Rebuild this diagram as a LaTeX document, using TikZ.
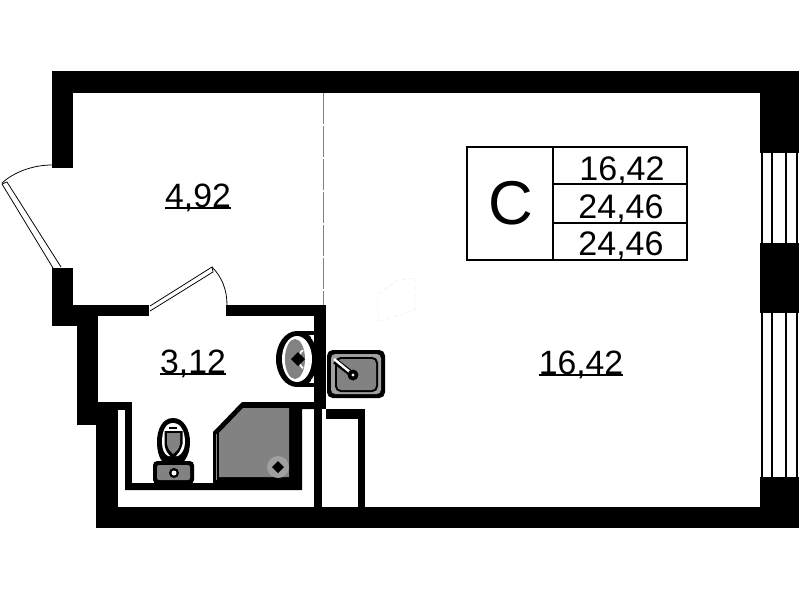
\documentclass[tikz,border=0pt]{standalone}
\usepackage{fontspec}
\setmainfont{Liberation Sans}
\definecolor{fixgray}{RGB}{130,130,130}
\definecolor{fixlight}{RGB}{160,160,160}
\newcommand{\arealabel}[1]{\setbox0\hbox{#1}\rlap{\rule[-1.4pt]{\wd0}{1.3pt}}\box0}
\tikzset{
  wall/.style={fill=black},
  leaf/.style={line width=0.55pt},
  gridline/.style={line width=0.75pt},
  pane/.style={line width=0.75pt},
  areatext/.style={anchor=base,inner sep=0pt,font=\fontsize{24}{24}\selectfont},
  tabletext/.style={anchor=base,inner sep=0pt,font=\fontsize{24.2}{24.2}\selectfont},
}
\begin{document}
\begin{tikzpicture}[x=0.25mm,y=-0.25mm]
      \useasboundingbox (0, 0) rectangle (799, 600);
      % walls
      \fill[wall] (52, 71) rectangle (799, 93);
      \fill[wall] (52, 71) rectangle (73, 168);
      \fill[wall] (52, 268) rectangle (73, 326);
      \fill[wall] (52, 305) rectangle (149, 316);
      \fill[wall] (52, 316) rectangle (77, 326);
      \fill[wall] (77, 305) rectangle (98, 425);
      \fill[wall] (98, 402) rectangle (132, 410);
      \fill[wall] (96, 402) rectangle (118, 528);
      \fill[wall] (125, 402) rectangle (132, 490);
      \fill[wall] (226, 305) rectangle (326, 316);
      \fill[wall] (314, 305) rectangle (326, 409);
      \fill[wall] (314, 409) rectangle (322, 507);
      \fill[wall] (326, 409) rectangle (365, 419);
      \fill[wall] (358, 409) rectangle (365, 507);
      \fill[wall] (96, 507) rectangle (799, 528);
      \fill[wall] (760, 71) rectangle (799, 153);
      \fill[wall] (760, 243) rectangle (799, 313);
      \fill[wall] (760, 477) rectangle (799, 528);
      % windows
      \foreach \x in {762, 772, 786, 797} {
        \draw[pane] (\x, 153) -- (\x, 243);
        \draw[pane] (\x, 313) -- (\x, 477);
      }
      % partition
      \draw[dashed, dash pattern=on 22pt off 1.5pt, gray, line width=0.5pt] (323, 93) -- (323, 305);
      \draw[black!6, densely dashed, line width=0.5pt] (378, 322) -- (378, 295) -- (397, 280) -- (415, 278) -- (415, 310) -- cycle;
      % doors
      \draw[leaf] (52, 165) .. controls (33, 165) and (14, 172) .. (2, 183);
      \draw[leaf] (2, 184) -- (7, 182) -- (61, 267);
      \draw[leaf] (2, 184) -- (53, 268);
      \draw[leaf] (212, 267) .. controls (222, 277) and (227, 290) .. (227, 305);
      \draw[leaf] (150, 306) -- (212, 267) -- (213, 272) -- (150, 311);
      % shower
      \fill[black] (213, 432) -- (242, 402) -- (314, 402) -- (314, 409) -- (302, 409) -- (302, 490) -- (125, 490) -- (125, 483) -- (213, 483) -- cycle;
      \fill[fixgray] (219, 433) -- (243, 408) -- (289, 408) -- (289, 477) -- (219, 477) -- cycle;
      \draw[black!45, line width=0.4pt] (216, 434) -- (216, 480);
      \begin{scope}
        \clip (219, 408) rectangle (289, 477);
        \fill[fixlight] (278, 467) circle (11);
      \end{scope}
      \fill[black] (278, 461) -- (284, 467) -- (278, 473) -- (272, 467) -- cycle;
      % toilet
      \fill[black] (173, 418) .. controls (184, 418) and (190, 430) .. (190, 442) .. controls (190, 452) and (186, 462) .. (180, 464) -- (166, 464) .. controls (160, 462) and (157, 452) .. (157, 442) .. controls (157, 430) and (162, 418) .. (173, 418) -- cycle;
      \fill[white] (173, 423) .. controls (181, 423) and (185, 432) .. (185, 442) .. controls (185, 449) and (182, 454) .. (178, 456) -- (168, 456) .. controls (164, 454) and (162, 449) .. (162, 442) .. controls (162, 432) and (165, 423) .. (173, 423) -- cycle;
      \fill[black] (164.5, 431) -- (182.5, 431) -- (182.5, 444) .. controls (181, 450) and (178, 455) .. (173, 458) .. controls (168, 455) and (165, 450) .. (164.5, 444) -- cycle;
      \fill[fixgray] (167, 433) -- (180, 433) -- (180, 444) .. controls (179, 449) and (177, 451) .. (173, 454) .. controls (170, 451) and (168, 449) .. (167, 444) -- cycle;
      \draw[black, line width=1pt] (169, 428) -- (177, 428);
      \fill[black, rounded corners=3pt] (153, 461) rectangle (194, 484);
      \fill[fixgray, rounded corners=1.5pt] (157, 465) rectangle (190, 480);
      \fill[black] (174, 473) circle (5);
      \fill[white] (174, 473) circle (2.5);
      % basin
      \begin{scope}
        \clip (270, 325) rectangle (314, 392);
        \fill[black] (297, 359) ellipse (21 and 28);
        \fill[white] (297, 359) ellipse (15 and 23);
        \fill[fixgray] (295, 359) ellipse (10 and 20);
        \draw[white, line width=1.2pt] (303, 350) arc (-130:-230:12);
        \fill[black] (298, 352) -- (305, 359) -- (298, 366) -- (291, 359) -- cycle;
        \fill[black] (297, 331) rectangle (314, 335);
        \fill[black] (297, 383) rectangle (314, 387);
        \fill[black] (308, 338) circle (3);
        \fill[black] (308, 380) circle (3);
      \end{scope}
      % kitchen sink
      \fill[black, rounded corners=4pt] (327, 350) rectangle (385, 398);
      \fill[fixlight, rounded corners=3pt] (331, 354) rectangle (381, 394);
      \fill[black, rounded corners=4pt] (335, 357) rectangle (378, 392);
      \fill[fixgray, rounded corners=3pt] (337, 359) rectangle (376, 390);
      \draw[black, line width=4.2pt] (335, 361) -- (353, 375);
      \draw[white, line width=1.7pt] (334, 359) -- (351, 373);
      \fill[black] (353, 375) circle (5.5);
      \fill[white] (353, 375) circle (1.6);
      % table
      \draw[gridline] (467, 147) rectangle (687, 260);
      \draw[gridline] (553, 147) -- (553, 260);
      \draw[gridline] (553, 184) -- (687, 184);
      \draw[gridline] (553, 223) -- (687, 223);
      \node[anchor=base, inner sep=0pt, font=\fontsize{44}{44}\selectfont] (typeC) at (511, 224) {C};
      \node[tabletext] (areaA) at (622, 180) {16,42};
      \node[tabletext] (areaB) at (621, 218) {24,46};
      \node[tabletext] (areaC) at (621, 255) {24,46};
      % rooms
      \node[areatext] (hall) at (198, 207) {\arealabel{4,92}};
      \node[areatext] (bath) at (193, 373) {\arealabel{3,12}};
      \node[areatext] (room) at (581, 374) {\arealabel{16,42}};
    \end{tikzpicture}
\end{document}
